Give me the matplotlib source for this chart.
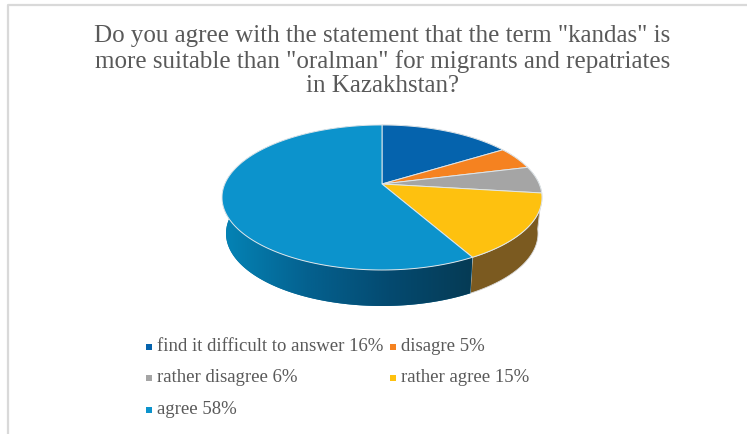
import numpy as np
import matplotlib.pyplot as plt
from matplotlib.colors import LinearSegmentedColormap
from matplotlib.patches import Polygon, Rectangle

# Survey answers
labels = ["find it difficult to answer", "disagre", "rather disagree", "rather agree", "agree"]
shares = [16, 5, 6, 15, 58]
colors = ["#0563ad", "#f58220", "#a5a5a5", "#fec10f", "#0c93cc"]
side_colors = ["#033a66", "#8f4c12", "#606060", "#7b5a20", "#0a6f9c"]

title = 'Do you agree with the statement that the term "kandas" is\nmore suitable than "oralman" for migrants and repatriates\nin Kazakhstan?'

# Pie geometry in pixels, tilted with a simple perspective
cx, cy = 382, 184
a, b, k = 157.2, 70.0, 0.186
depth = 36
shrink = 0.975
grey = "#595959"


def rim(t):
    u, v = np.sin(t), -np.cos(t)
    w = 1 - k * v
    return cx + a * u / w, cy + b * v / w


def arc(t0, t1):
    n = max(int(abs(t1 - t0) * 60), 2)
    return rim(np.linspace(t0, t1, n))


fig = plt.figure(figsize=(7.47, 4.34), dpi=100)
ax = fig.add_axes([0, 0, 1, 1])
ax.set_xlim(0, 747)
ax.set_ylim(434, 0)
ax.axis("off")

# Frame around the chart
ax.plot([8, 8, 747], [434, 5, 5], color="#d9d9d9", lw=1.6, zorder=1)

edges = np.cumsum([0] + shares) / sum(shares) * 2 * np.pi

# Side wall first, the top covers whatever is left over
for i in range(len(shares)):
    x, y = arc(edges[i], edges[i + 1])
    xb = cx + (x - cx) * shrink
    yb = y + depth
    wall = Polygon(np.column_stack([np.r_[x, xb[::-1]], np.r_[y, yb[::-1]]]),
                   closed=True, fc=side_colors[i], ec="#d8d8d8", lw=0.6, zorder=2)
    ax.add_patch(wall)
    if labels[i] == "agree":
        # the big slice has a shaded wall, lighter on the left
        wall.set_edgecolor("none")
        cmap = LinearSegmentedColormap.from_list("wall", ["#0583b5", "#04618f", "#044a70", "#063b55"])
        im = ax.imshow(np.linspace(0, 1, 256).reshape(1, -1), cmap=cmap, aspect="auto",
                       extent=[225, 472, 320, 190], zorder=3)
        im.set_clip_path(wall)

ax.set_xlim(0, 747)
ax.set_ylim(434, 0)

# Top face
for i in range(len(shares)):
    x, y = arc(edges[i], edges[i + 1])
    top = Polygon(np.column_stack([np.r_[cx, x], np.r_[cy, y]]), closed=True,
                  fc=colors[i], ec="#dfe6ea", lw=0.7, joinstyle="round", zorder=4)
    ax.add_patch(top)

ax.text(382.5, 61, title, ha="center", va="center", family="Liberation Serif",
        fontsize=18, color=grey, linespacing=1.13, zorder=5)

# Legend in two columns
col_x = [149, 393]
row_y = [347, 378, 410]
for i, (name, val) in enumerate(zip(labels, shares)):
    mx = col_x[i % 2]
    my = row_y[i // 2]
    ax.add_patch(Rectangle((mx - 3, my - 3), 6, 6, fc=colors[i], ec="none", zorder=5))
    ax.text(mx + 8, my - 0.5, f"{name} {val}%", ha="left", va="center",
            family="Liberation Serif", fontsize=13.5, color=grey, zorder=5)

fig.savefig("out.png", dpi=100)
